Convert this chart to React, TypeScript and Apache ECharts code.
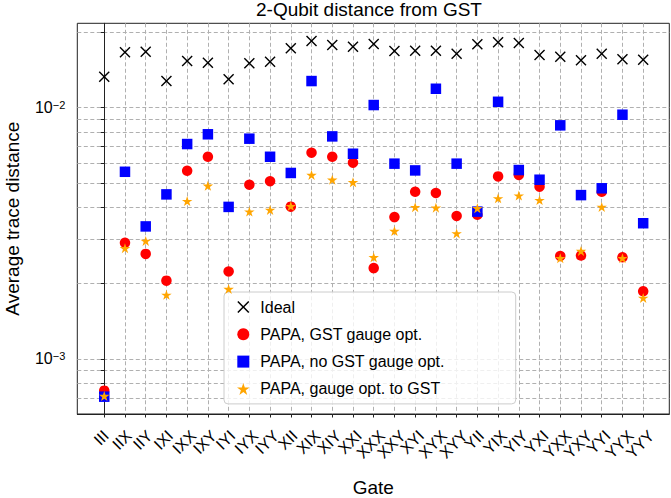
import React, { useEffect, useRef } from 'react';
import * as echarts from 'echarts';

const gates = ['III', 'IIX', 'IIY', 'IXI', 'IXX', 'IXY', 'IYI', 'IYX', 'IYY', 'XII', 'XIX', 'XIY', 'XXI', 'XXX', 'XXY', 'XYI', 'XYX', 'XYY', 'YII', 'YIX', 'YIY', 'YXI', 'YXX', 'YXY', 'YYI', 'YYX', 'YYY'];

const ideal = [0.01328, 0.01662, 0.01671, 0.01277, 0.01534, 0.0151, 0.01297, 0.01502, 0.01524, 0.01724, 0.01842, 0.01776, 0.01749, 0.01793, 0.01681, 0.01686, 0.01686, 0.0164, 0.01788, 0.01821, 0.01809, 0.0162, 0.01595, 0.01544, 0.0164, 0.01558, 0.01552];
const gstGaugeOpt = [7.48e-4, 2.9e-3, 2.62e-3, 2.05e-3, 5.61e-3, 6.38e-3, 2.23e-3, 4.94e-3, 5.1e-3, 4.04e-3, 6.62e-3, 6.38e-3, 6.04e-3, 2.3e-3, 3.67e-3, 4.63e-3, 4.58e-3, 3.71e-3, 3.75e-3, 5.33e-3, 5.4e-3, 4.85e-3, 2.57e-3, 2.58e-3, 4.63e-3, 2.54e-3, 1.86e-3];
const noGstGaugeOpt = [7.08e-4, 5.56e-3, 3.37e-3, 4.52e-3, 7.17e-3, 7.84e-3, 4.03e-3, 7.53e-3, 6.38e-3, 5.5e-3, 1.277e-2, 7.69e-3, 6.56e-3, 1.025e-2, 5.99e-3, 5.63e-3, 1.19e-2, 5.99e-3, 3.86e-3, 1.056e-2, 5.65e-3, 5.17e-3, 8.51e-3, 4.49e-3, 4.78e-3, 9.38e-3, 3.47e-3];
const gaugeOptToGst = [7.12e-4, 2.76e-3, 2.95e-3, 1.8e-3, 4.25e-3, 4.89e-3, 1.9e-3, 3.86e-3, 3.92e-3, 4.06e-3, 5.4e-3, 5.17e-3, 5.05e-3, 2.54e-3, 3.23e-3, 4.02e-3, 4.0e-3, 3.16e-3, 3.98e-3, 4.36e-3, 4.47e-3, 4.29e-3, 2.52e-3, 2.69e-3, 4.03e-3, 2.52e-3, 1.75e-3];

const seriesNames = ['Ideal', 'PAPA, GST gauge opt.', 'PAPA, no GST gauge opt.', 'PAPA, gauge opt. to GST'];
const yMajorTicks = [1e-3, 1e-2];
const yAllTicks = [7e-4, 8e-4, 9e-4, 1e-3, 2e-3, 3e-3, 4e-3, 5e-3, 6e-3, 7e-3, 8e-3, 9e-3, 1e-2, 2e-2];

const FONT = '"Liberation Sans", Arial, Helvetica, sans-serif';
const X_PATH = 'path://M0.9,0L5,4.1L9.1,0L10,0.9L5.9,5L10,9.1L9.1,10L5,5.9L0.9,10L0,9.1L4.1,5L0,0.9Z';
const SQUARE_PATH = 'path://M0,0L10,0L10,10L0,10Z';
const STAR_PATH = 'path://M0,-10L2.245,-3.09L9.511,-3.09L3.633,1.18L5.878,8.09L0,3.82L-5.878,8.09L-3.633,1.18L-9.511,-3.09L-2.245,-3.09Z';

const gridLine = { show: true, lineStyle: { color: '#b0b0b0', width: 1, type: [4, 2.5] as number[] } };

// layout constants
const GRID_LEFT = 77.3;
const GRID_RIGHT = 1.7;
const CHART_W = 671;
const X_MIN = -1.3;
const X_MAX = 27.26;
const TICK_FONT = 16;
const CHAR_W: Record<string, number> = { I: 278, X: 667, Y: 667 };

export default function App() {
  const ref = useRef<HTMLDivElement>(null);
  useEffect(() => {
    if (!ref.current) return;
    const chart = echarts.init(ref.current, undefined, { renderer: 'svg' });
    const idx = gates.map((_, i) => i);
    const pxPerUnit = (CHART_W - GRID_LEFT - GRID_RIGHT) / (X_MAX - X_MIN);
    // emulate centred rotated tick labels: shift each end-anchored label along the axis
    const labelValues = gates.map((g, i) => {
      const w = g.split('').reduce((s, c) => s + (CHAR_W[c] || 600), 0) * TICK_FONT / 1000;
      return i + (0.354 * w - 3) / pxPerUnit;
    });
    // empty guard labels at both ends so no real label is dropped by min/max overlap handling
    const labelPositions = [X_MIN + 0.1, ...labelValues, X_MAX - 0.06];
    const toData = (arr: number[]) => arr.map((v, i) => [i, v]);
    chart.setOption({
      animation: false,
      backgroundColor: '#ffffff',
      textStyle: { fontFamily: FONT },
      title: {
        text: '2-Qubit distance from GST',
        left: 256,
        top: 0,
        padding: 0,
        textStyle: { fontSize: 19, fontWeight: 'normal', color: '#000', fontFamily: FONT },
      },
      legend: {
        orient: 'vertical',
        left: 224,
        top: 292,
        padding: [7, 71, 7, 13],
        itemGap: 11.3,
        itemWidth: 24,
        itemHeight: 12,
        symbolKeepAspect: true,
        backgroundColor: 'rgba(255,255,255,0.8)',
        borderColor: '#cccccc',
        borderWidth: 1,
        borderRadius: 4,
        textStyle: { fontSize: 16, color: '#000', fontFamily: FONT },
        data: seriesNames,
      },
      grid: {
        left: GRID_LEFT,
        right: GRID_RIGHT,
        top: 23.3,
        bottom: 84,
        show: true,
        borderColor: '#222',
        borderWidth: 1,
        containLabel: false,
        outerBoundsMode: 'none',
      },
      xAxis: {
        type: 'value',
        min: X_MIN,
        max: X_MAX,
        name: 'Gate',
        nameLocation: 'middle',
        nameGap: 64,
        nameMoveOverlap: false,
        nameTextStyle: { fontSize: 19, color: '#000', fontFamily: FONT },
        axisLine: { show: true, onZero: false, lineStyle: { color: '#222', width: 1 } },
        axisTick: { show: true, length: 3.5, customValues: idx, lineStyle: { color: '#222' } },
        axisLabel: {
          customValues: labelPositions,
          formatter: (v: number) => {
            const k = Math.round(v);
            return k >= 0 && k < gates.length && v > X_MIN + 0.5 && v < X_MAX - 0.5 ? gates[k] : '';
          },
          rotate: 45,
          fontSize: TICK_FONT,
          margin: 19,
          color: '#000',
          fontFamily: FONT,
          hideOverlap: false,
        },
        splitLine: gridLine,
      },
      yAxis: {
        type: 'log',
        logBase: 10,
        min: 6.04e-4,
        max: 0.02168,
        name: 'Average trace distance',
        nameLocation: 'middle',
        nameRotate: 90,
        nameGap: 55,
        nameMoveOverlap: false,
        nameTextStyle: { fontSize: 19, color: '#000', fontFamily: FONT },
        axisLine: { show: true, lineStyle: { color: '#222', width: 1 } },
        axisTick: { show: true, length: 3.5, customValues: yAllTicks, lineStyle: { color: '#222' } },
        axisLabel: {
          customValues: yMajorTicks,
          formatter: (v: number) => `10{sup|−${Math.round(-Math.log10(v))}}`,
          fontSize: 16,
          margin: 12,
          color: '#000',
          fontFamily: FONT,
          showMinLabel: true,
          showMaxLabel: true,
          rich: { sup: { fontSize: 11, verticalAlign: 'top', color: '#000', fontFamily: FONT } },
        },
        splitLine: gridLine,
      },
      series: [
        {
          name: seriesNames[0], type: 'scatter', data: toData(ideal),
          symbol: X_PATH, symbolSize: 11, symbolKeepAspect: true,
          itemStyle: { color: '#000', opacity: 1 }, z: 2,
        },
        {
          name: seriesNames[1], type: 'scatter', data: toData(gstGaugeOpt),
          symbol: 'circle', symbolSize: 10.5,
          itemStyle: { color: '#ff0000', opacity: 1 }, z: 3,
        },
        {
          name: seriesNames[2], type: 'scatter', data: toData(noGstGaugeOpt),
          symbol: SQUARE_PATH, symbolSize: 10.5, symbolKeepAspect: true,
          itemStyle: { color: '#0000ff', opacity: 1 }, z: 4,
        },
        {
          name: seriesNames[3], type: 'scatter', data: toData(gaugeOptToGst),
          symbol: STAR_PATH, symbolSize: 10.5, symbolKeepAspect: true,
          itemStyle: { color: '#ffa500', opacity: 1 }, z: 5,
        },
      ],
    });
    return () => chart.dispose();
  }, []);
  return <div ref={ref} style={{ position: 'fixed', left: 0, top: 0, width: 671, height: 498 }} />;
}
